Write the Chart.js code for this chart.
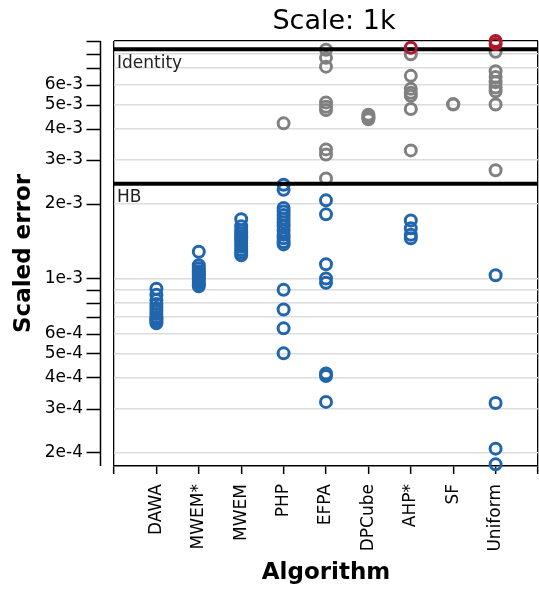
<!DOCTYPE html>
<html>
<head>
<meta charset="utf-8">
<script src="https://cdn.jsdelivr.net/npm/chart.js@4.4.1/dist/chart.umd.min.js"></script>
<style>
  html, body { margin: 0; padding: 0; background: #ffffff; }
  #wrap { width: 539px; height: 589px; position: relative; }
</style>
</head>
<body>
<div id="wrap"><canvas id="chart" width="539" height="589"></canvas></div>
<script>
// Algorithms along the x axis
const algorithms = ['DAWA', 'MWEM*', 'MWEM', 'PHP', 'EFPA', 'DPCube', 'AHP*', 'SF', 'Uniform'];

// Scaled error of each run, per algorithm
const dawaErrors = [9.1e-4, 8.6e-4, 8.2e-4, 7.9e-4, 7.6e-4, 7.4e-4, 7.2e-4, 7.0e-4, 6.9e-4, 6.8e-4, 6.7e-4, 6.6e-4];
const mwemStarErrors = [1.28e-3, 1.13e-3, 1.10e-3, 1.07e-3, 1.05e-3, 1.03e-3, 1.01e-3, 9.9e-4, 9.7e-4, 9.5e-4, 9.3e-4];
const mwemErrors = [1.73e-3, 1.62e-3, 1.56e-3, 1.52e-3, 1.48e-3, 1.45e-3, 1.42e-3, 1.38e-3, 1.34e-3, 1.30e-3, 1.27e-3, 1.24e-3];
const phpErrors = [4.2e-3, 2.38e-3, 2.27e-3, 1.92e-3, 1.86e-3, 1.80e-3, 1.74e-3, 1.68e-3, 1.62e-3, 1.56e-3, 1.50e-3, 1.45e-3, 1.40e-3, 1.37e-3, 9.0e-4, 7.5e-4, 6.3e-4, 5.0e-4];
const efpaErrors = [8.3e-3, 7.7e-3, 7.1e-3, 5.1e-3, 4.9e-3, 4.75e-3, 3.3e-3, 3.15e-3, 2.52e-3, 2.06e-3, 1.81e-3, 1.14e-3, 1.0e-3, 9.6e-4, 4.15e-4, 4.05e-4, 3.19e-4];
const dpcubeErrors = [4.55e-3, 4.48e-3, 4.42e-3, 4.36e-3];
const ahpStarErrors = [8.46e-3, 7.96e-3, 6.52e-3, 5.78e-3, 5.57e-3, 5.42e-3, 4.8e-3, 3.27e-3, 1.71e-3, 1.59e-3, 1.50e-3, 1.45e-3];
const sfErrors = [5.0e-3, 5.02e-3];
const uniformErrors = [9.0e-3, 8.75e-3, 8.15e-3, 6.8e-3, 6.45e-3, 6.15e-3, 5.85e-3, 5.65e-3, 5.0e-3, 2.72e-3, 1.03e-3, 3.16e-4, 2.07e-4, 1.79e-4];

// Reference baselines
const identityError = 8.33e-3;
const hbError = 2.40e-3;

// Axis ticks
const yTickValues = [2e-4, 3e-4, 4e-4, 5e-4, 6e-4, 7e-4, 8e-4, 9e-4, 1e-3, 2e-3, 3e-3, 4e-3, 5e-3, 6e-3, 7e-3, 8e-3, 9e-3];
const yTickLabels = ['2e-4', '3e-4', '4e-4', '5e-4', '6e-4', '', '', '', '1e-3', '2e-3', '3e-3', '4e-3', '5e-3', '6e-3', '', '', ''];
const yMin = 1.763e-4;
const yMax = 9e-3;
const xTickValues = [-1, 0, 1, 2, 3, 4, 5, 6, 7, 8, 9];

const errorsByAlgorithm = [dawaErrors, mwemStarErrors, mwemErrors, phpErrors, efpaErrors, dpcubeErrors, ahpStarErrors, sfErrors, uniformErrors];

const BLUE = '#2166ac';
const GRAY = '#808080';
const RED = '#b2182b';

// Split runs by how they compare with the HB and Identity baselines
function collect(test) {
  const pts = [];
  errorsByAlgorithm.forEach((errs, i) => {
    errs.forEach(v => { if (test(v)) pts.push({ x: i, y: v }); });
  });
  return pts;
}
const betterThanHB = collect(v => v <= hbError);
const worseThanHB = collect(v => v > hbError && v <= identityError);
const worseThanIdentity = collect(v => v > identityError);

Chart.defaults.font.family = "'DejaVu Sans', sans-serif";
Chart.defaults.color = '#000000';

function markerSet(label, data, color, order) {
  return {
    type: 'scatter',
    label, data, order,
    borderColor: color,
    backgroundColor: 'rgba(0,0,0,0)',
    borderWidth: 3,
    pointRadius: 5.5,
    pointHoverRadius: 5.5,
    clip: false
  };
}
function baseline(label, value) {
  return {
    type: 'line',
    label,
    data: [{ x: -1, y: value }, { x: 9, y: value }],
    borderColor: '#000000',
    borderWidth: 4,
    pointRadius: 0,
    order: 1
  };
}

// Title, baseline names and the detached y spine
const decorations = {
  id: 'decorations',
  afterDraw(chart) {
    const { ctx, chartArea, scales } = chart;
    const y = scales.y;
    ctx.save();
    ctx.fillStyle = '#000';
    ctx.textAlign = 'center';
    ctx.textBaseline = 'alphabetic';
    ctx.font = "27px 'DejaVu Sans'";
    ctx.fillText('Scale: 1k', 334, 29);

    ctx.textAlign = 'left';
    ctx.font = "17px 'DejaVu Sans'";
    ctx.fillStyle = '#222';
    ctx.fillText('Identity', chartArea.left + 3, y.getPixelForValue(identityError) + 19);
    ctx.fillText('HB', chartArea.left + 3, y.getPixelForValue(hbError) + 18);

    const spineX = 100.5;
    ctx.strokeStyle = '#000';
    ctx.lineWidth = 1.5;
    ctx.beginPath();
    ctx.moveTo(spineX, y.getPixelForValue(yMax));
    ctx.lineTo(spineX, chartArea.bottom);
    ctx.stroke();
    ctx.beginPath();
    yTickValues.forEach(v => {
      const py = Math.round(y.getPixelForValue(v)) + 0.5;
      ctx.moveTo(spineX, py);
      ctx.lineTo(spineX - 14, py);
    });
    ctx.stroke();
    ctx.restore();
  }
};

new Chart(document.getElementById('chart'), {
  data: {
    datasets: [
      markerSet('Better than HB', betterThanHB, BLUE, 2),
      markerSet('Worse than HB', worseThanHB, GRAY, 2),
      baseline('Identity', identityError),
      baseline('HB', hbError),
      markerSet('Worse than Identity', worseThanIdentity, RED, 0)
    ]
  },
  options: {
    responsive: false,
    animation: false,
    events: [],
    layout: { autoPadding: false, padding: { top: 41, right: 1, bottom: 0, left: 0 } },
    plugins: {
      legend: { display: false },
      tooltip: { enabled: false },
      title: { display: false }
    },
    scales: {
      x: {
        type: 'linear',
        min: -1,
        max: 9,
        afterBuildTicks: s => { s.ticks = xTickValues.map(v => ({ value: v })); },
        afterFit: s => { s.height = 123; s.paddingLeft = 0; s.paddingRight = 0; },
        ticks: {
          autoSkip: false,
          maxRotation: 90,
          minRotation: 90,
          padding: 10,
          color: '#000',
          font: { size: 17 },
          callback: v => (algorithms[v] !== undefined ? algorithms[v] : '')
        },
        grid: {
          drawOnChartArea: true,
          color: c => (c.tick && (c.tick.value === -1 || c.tick.value === 9)) ? '#000000' : 'rgba(0,0,0,0)',
          lineWidth: 1.3,
          tickColor: '#000000',
          tickLength: 8,
          tickWidth: 1.5
        },
        border: { display: true, color: '#000000', width: 1.5 },
        title: {
          display: true,
          text: 'Algorithm',
          color: '#000',
          font: { size: 23, weight: 'bold' },
          padding: { top: 0, bottom: 2 }
        }
      },
      y: {
        type: 'logarithmic',
        min: yMin,
        max: yMax,
        afterBuildTicks: s => { s.ticks = yTickValues.map(v => ({ value: v })); },
        afterFit: s => { s.width = 114; s.paddingTop = 0; s.paddingBottom = 0; },
        ticks: {
          autoSkip: false,
          padding: 31,
          color: '#000',
          font: { size: 17 },
          callback: (v, i) => yTickLabels[i]
        },
        grid: {
          drawTicks: false,
          color: c => (c.tick && c.tick.value === yMax) ? '#000000' : '#dcdcdc',
          lineWidth: c => (c.tick && c.tick.value === yMax) ? 1.3 : 1.6
        },
        border: { display: false },
        title: {
          display: true,
          text: 'Scaled error',
          color: '#000',
          font: { size: 23, weight: 'bold' },
          padding: { top: 10, bottom: 0 }
        }
      }
    }
  },
  plugins: [decorations]
});
</script>
</body>
</html>
